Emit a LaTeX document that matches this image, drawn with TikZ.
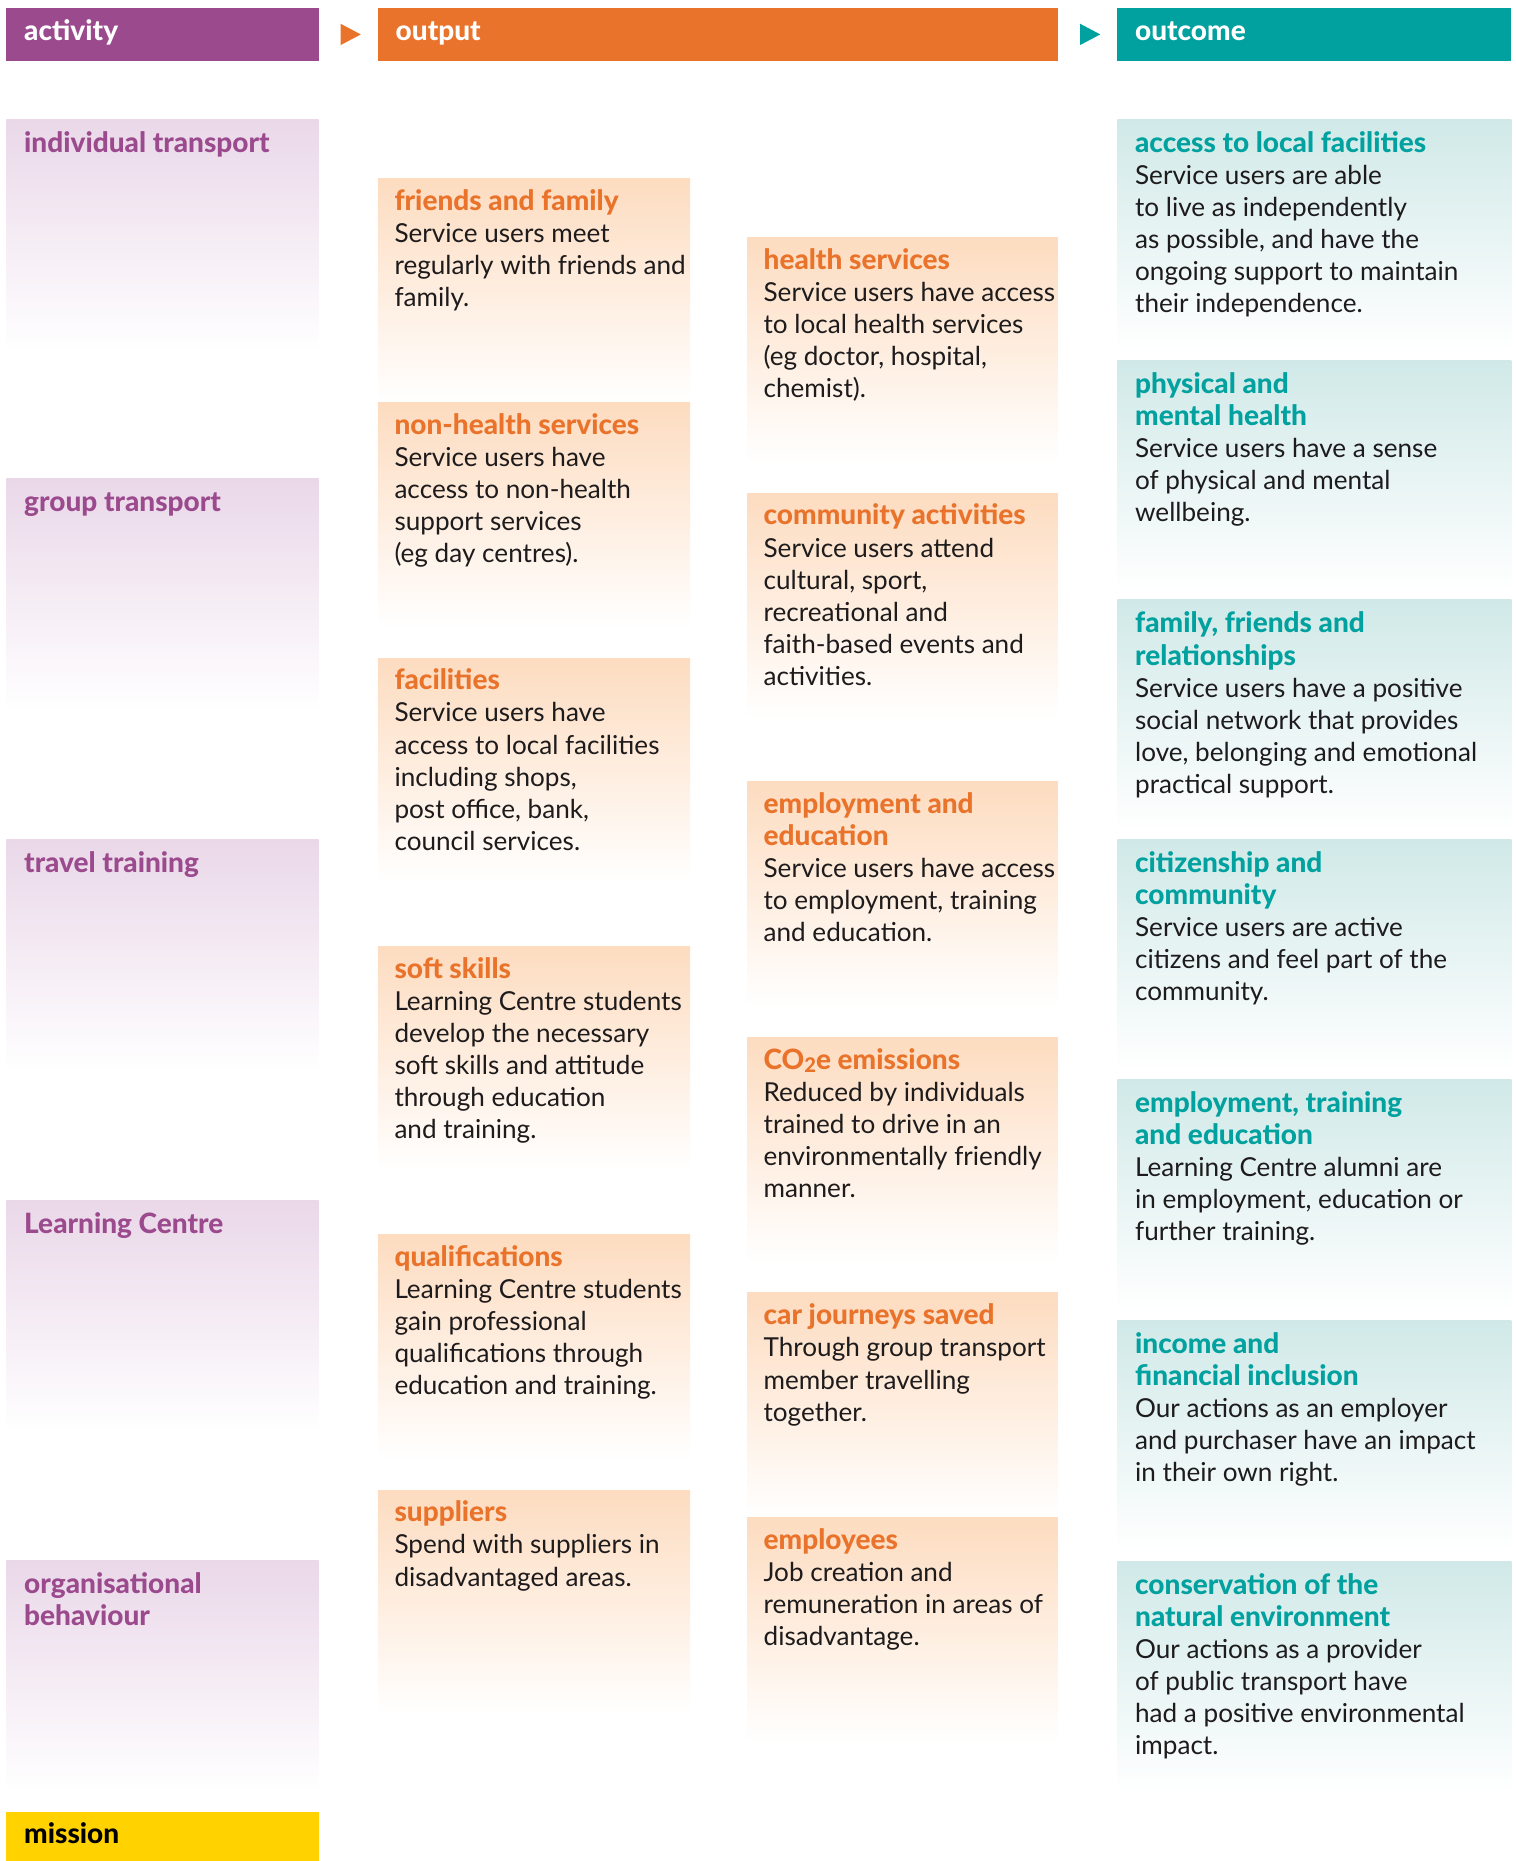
\documentclass[tikz,border=0pt]{standalone}
\usepackage{fontspec}
\setmainfont{Lato}
\newfontfamily\heavyfont{Lato Heavy}

\definecolor{actcol}{HTML}{9B4A8D}
\definecolor{outcol}{HTML}{EA732B}
\definecolor{tealcol}{HTML}{00A19E}
\definecolor{mission}{HTML}{FFD200}
\definecolor{actbg}{HTML}{EAD8E9}
\definecolor{outbg}{HTML}{FDDCC0}
\definecolor{tealbg}{HTML}{D0E9E8}
\definecolor{ink}{HTML}{1E1B1C}

% headings: heavy, a little larger; the strut fixes the first baseline
\newcommand\headfont{\heavyfont\fontsize{11.8}{13.5}\selectfont\strut}
\newcommand\acthead[1]{{\headfont\color{actcol}#1}}
\newcommand\outhead[1]{{\headfont\color{outcol}#1}}
\newcommand\tealhead[1]{{\headfont\color{tealcol}#1}}

\tikzset{
  hdr/.style={rectangle, inner sep=0, anchor=north west, minimum height=22.5pt},
  hdrtext/.style={anchor=base west, inner sep=0, text=white, font=\heavyfont\fontsize{11.8}{13.5}\selectfont},
  tile/.style={rectangle, inner sep=0, anchor=north west, minimum height=97.5pt, bottom color=white},
  actbox/.style={tile, minimum width=131.5pt, top color=actbg},
  outbox/.style={tile, minimum width=131.5pt, minimum height=95pt, top color=outbg},
  tealbox/.style={tile, minimum width=166pt, top color=tealbg},
  boxtext/.style={anchor=north west, inner sep=0, align=left, text=ink, font=\fontsize{11}{13.5}\selectfont},
}

\begin{document}
\begin{tikzpicture}[x=0.5pt, y=-0.5pt]
    \useasboundingbox (0,0) rectangle (1277,1568);

    % column headers
    \node[hdr, fill=actcol, minimum width=131.5pt] (acthdr) at (5,6) {};
    \node[hdrtext] (acthdr-t) at ([shift={(15,28)}]acthdr.north west) {activity};
    \node[hdr, fill=outcol, minimum width=286.5pt] (outhdr) at (318,6) {};
    \node[hdrtext] (outhdr-t) at ([shift={(15,28)}]outhdr.north west) {output};
    \node[hdr, fill=tealcol, minimum width=166pt] (tealhdr) at (941,6) {};
    \node[hdrtext] (tealhdr-t) at ([shift={(15,28)}]tealhdr.north west) {outcome};

    % small arrows between the headers
    \fill[outcol] (287,20) -- (287,38) -- (304,29) -- cycle;
    \fill[tealcol] (910,20) -- (910,38) -- (927,29) -- cycle;

    % activity
    \node[actbox] (act1) at (5,100) {};
    \node[boxtext] (act1-t) at ([shift={(15,9)}]act1.north west) {\acthead{individual transport}};
    \node[actbox] (act2) at (5,403) {};
    \node[boxtext] (act2-t) at ([shift={(15,9)}]act2.north west) {\acthead{group transport}};
    \node[actbox] (act3) at (5,707) {};
    \node[boxtext] (act3-t) at ([shift={(15,9)}]act3.north west) {\acthead{travel training}};
    \node[actbox] (act4) at (5,1011) {};
    \node[boxtext] (act4-t) at ([shift={(15,9)}]act4.north west) {\acthead{Learning Centre}};
    \node[actbox] (act5) at (5,1314) {};
    \node[boxtext] (act5-t) at ([shift={(15,9)}]act5.north west) {\acthead{organisational}\\\acthead{behaviour}};

    % mission
    \node[hdr, fill=mission, minimum width=131.5pt, minimum height=21pt] (mis) at (5,1526) {};
    \node[hdrtext, text=black] (mis-t) at ([shift={(15,27)}]mis.north west) {mission};

    % output, left column
    \node[outbox] (outa1) at (318,150) {};
    \node[boxtext] (outa1-t) at ([shift={(14,8)}]outa1.north west) {\outhead{friends and family}\\
      Service users meet\\regularly with friends and\\family.};
    \node[outbox] (outa2) at (318,339) {};
    \node[boxtext] (outa2-t) at ([shift={(14,8)}]outa2.north west) {\outhead{non-health services}\\
      Service users have\\access to non-health\\support services\\(eg day centres).};
    \node[outbox] (outa3) at (318,554) {};
    \node[boxtext] (outa3-t) at ([shift={(14,8)}]outa3.north west) {\outhead{facilities}\\
      Service users have\\access to local facilities\\including shops,\\post office, bank,\\council services.};
    \node[outbox] (outa4) at (318,797) {};
    \node[boxtext] (outa4-t) at ([shift={(14,8)}]outa4.north west) {\outhead{soft skills}\\
      Learning Centre students\\develop the necessary\\soft skills and attitude\\through education\\and training.};
    \node[outbox] (outa5) at (318,1040) {};
    \node[boxtext] (outa5-t) at ([shift={(14,8)}]outa5.north west) {\outhead{qualifications}\\
      Learning Centre students\\gain professional\\qualifications through\\education and training.};
    \node[outbox] (outa6) at (318,1255) {};
    \node[boxtext] (outa6-t) at ([shift={(14,8)}]outa6.north west) {\outhead{suppliers}\\
      Spend with suppliers in\\disadvantaged areas.};

    % output, right column
    \node[outbox, minimum width=131pt] (outb1) at (629,200) {};
    \node[boxtext] (outb1-t) at ([shift={(14,8)}]outb1.north west) {\outhead{health services}\\
      Service users have access\\to local health services\\(eg doctor, hospital,\\chemist).};
    \node[outbox, minimum width=131pt] (outb2) at (629,415) {};
    \node[boxtext] (outb2-t) at ([shift={(14,8)}]outb2.north west) {\outhead{community activities}\\
      Service users attend\\cultural, sport,\\recreational and\\faith-based events and\\activities.};
    \node[outbox, minimum width=131pt] (outb3) at (629,658) {};
    \node[boxtext] (outb3-t) at ([shift={(14,8)}]outb3.north west) {\outhead{employment and}\\\outhead{education}\\
      Service users have access\\to employment, training\\and education.};
    \node[outbox, minimum width=131pt] (outb4) at (629,874) {};
    \node[boxtext] (outb4-t) at ([shift={(14,8)}]outb4.north west) {\outhead{CO\raisebox{-0.2ex}{\fontsize{8.5}{8.5}\selectfont 2}e emissions}\\
      Reduced by individuals\\trained to drive in an\\environmentally friendly\\manner.};
    \node[outbox, minimum width=131pt] (outb5) at (629,1089) {};
    \node[boxtext] (outb5-t) at ([shift={(14,8)}]outb5.north west) {\outhead{car journeys saved}\\
      Through group transport\\member travelling\\together.};
    \node[outbox, minimum width=131pt] (outb6) at (629,1278) {};
    \node[boxtext] (outb6-t) at ([shift={(14,8)}]outb6.north west) {\outhead{employees}\\
      Job creation and\\remuneration in areas of\\disadvantage.};

    % outcome
    \node[tealbox] (res1) at (941,100) {};
    \node[boxtext] (res1-t) at ([shift={(15,9)}]res1.north west) {\tealhead{access to local facilities}\\
      Service users are able\\to live as independently\\as possible, and have the\\ongoing support to maintain\\their independence.};
    \node[tealbox] (res2) at (941,303) {};
    \node[boxtext] (res2-t) at ([shift={(15,9)}]res2.north west) {\tealhead{physical and}\\\tealhead{mental health}\\
      Service users have a sense\\of physical and mental\\wellbeing.};
    \node[tealbox] (res3) at (941,505) {};
    \node[boxtext] (res3-t) at ([shift={(15,9)}]res3.north west) {\tealhead{family, friends and}\\\tealhead{relationships}\\
      Service users have a positive\\social network that provides\\love, belonging and emotional\\practical support.};
    \node[tealbox] (res4) at (941,707) {};
    \node[boxtext] (res4-t) at ([shift={(15,9)}]res4.north west) {\tealhead{citizenship and}\\\tealhead{community}\\
      Service users are active\\citizens and feel part of the\\community.};
    \node[tealbox] (res5) at (941,909) {};
    \node[boxtext] (res5-t) at ([shift={(15,9)}]res5.north west) {\tealhead{employment, training}\\\tealhead{and education}\\
      Learning Centre alumni are\\in employment, education or\\further training.};
    \node[tealbox] (res6) at (941,1112) {};
    \node[boxtext] (res6-t) at ([shift={(15,9)}]res6.north west) {\tealhead{income and}\\\tealhead{financial inclusion}\\
      Our actions as an employer\\and purchaser have an impact\\in their own right.};
    \node[tealbox] (res7) at (941,1315) {};
    \node[boxtext] (res7-t) at ([shift={(15,9)}]res7.north west) {\tealhead{conservation of the}\\\tealhead{natural environment}\\
      Our actions as a provider\\of public transport have\\had a positive environmental\\impact.};
\end{tikzpicture}
\end{document}
